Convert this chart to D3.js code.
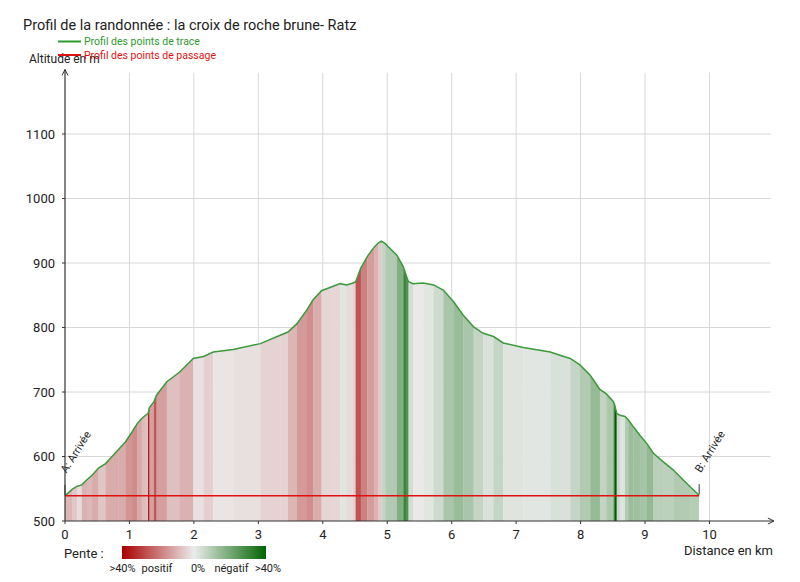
<!DOCTYPE html>
<html><head><meta charset="utf-8">
<script src="https://cdn.jsdelivr.net/npm/d3@7"></script>
<style>
html,body{margin:0;padding:0;background:#fff;}
svg{display:block;font-family:Roboto,"Noto Sans",sans-serif;}
</style></head>
<body>
<svg id="chart" width="800" height="582"></svg>
<script>
// ---- data ----
const title = "Profil de la randonnée : la croix de roche brune- Ratz";
const distanceKm = [0.00,0.11,0.19,0.26,0.34,0.42,0.52,0.63,0.73,0.83,0.94,1.04,1.12,1.19,1.25,1.29,1.31,1.38,1.42,1.58,1.78,1.99,2.15,2.30,2.61,3.03,3.34,3.46,3.60,3.75,3.85,3.98,4.11,4.27,4.37,4.47,4.51,4.59,4.69,4.80,4.86,4.91,4.97,5.04,5.15,5.25,5.30,5.33,5.40,5.56,5.72,5.87,6.03,6.18,6.34,6.49,6.65,6.80,7.11,7.53,7.68,7.84,7.99,8.15,8.30,8.40,8.51,8.53,8.56,8.61,8.69,8.74,8.82,8.92,9.03,9.13,9.28,9.44,9.59,9.70,9.84];
const altitudeM  = [539,549,554,556,564,571,582,589,600,611,623,638,651,659,664,667,676,685,695,716,731,752,755,762,766,775,788,793,806,827,843,857,862,868,866,869,871,892,910,925,931,934,930,923,912,894,879,871,868,869,866,858,840,819,801,791,786,776,769,762,757,752,742,726,704,697,685,680,667,664,662,657,646,633,620,605,592,579,564,553,540];
const waypointKm = [0.00, 9.84];
const waypointAlt = [539, 539];
const waypointLabels = ["A: Arrivée", "B: Arrivée"];
const yTicks = [500,600,700,800,900,1000,1100];
const xTicks = [0,1,2,3,4,5,6,7,8,9,10];
const legendItems = ["Profil des points de trace", "Profil des points de passage"];
const slopeLegend = [">40%", "positif", "0%", "négatif", ">40%"];

// ---- layout ----
const svg = d3.select("#chart");
const x = d3.scaleLinear().domain([0, 11]).range([65, 773.9]);
const y = d3.scaleLinear().domain([500, 1200]).range([521, 69.5]);
const slopeColor = d3.scaleLinear().domain([40, 0, -40])
  .range(["#a80000", "#ececec", "#006400"]).interpolate(d3.interpolateRgb);

const defs = svg.append("defs");
const pts = distanceKm.map((d, i) => ({d, a: altitudeM[i]}));

// grid
const grid = svg.append("g");
grid.selectAll(".vg").data(xTicks.filter(t => t > 0)).join("line")
  .attr("x1", d => x(d)).attr("x2", d => x(d))
  .attr("y1", y(500)).attr("y2", y(1195))
  .attr("stroke", "#d8d8d8").attr("stroke-width", 1);
grid.selectAll(".hg").data(yTicks.filter(t => t > 500)).join("line")
  .attr("x1", x(0)).attr("x2", x(10.95))
  .attr("y1", d => y(d)).attr("y2", d => y(d))
  .attr("stroke", "#d8d8d8").attr("stroke-width", 1);

// clip area under profile
const area = d3.area().x(p => x(p.d)).y0(y(500)).y1(p => y(p.a));
defs.append("clipPath").attr("id", "under").append("path").attr("d", area(pts));

// slope stripes
const segs = pts.slice(1).map((p, i) => {
  const q = pts[i];
  return {d0: q.d, d1: p.d, slope: (p.a - q.a) / ((p.d - q.d) * 1000) * 100};
});
svg.append("g").attr("clip-path", "url(#under)")
  .selectAll("rect").data(segs).join("rect")
  .attr("x", s => x(s.d0)).attr("width", s => Math.max(1, x(s.d1) - x(s.d0)) + 0.3)
  .attr("y", y(1200)).attr("height", y(500) - y(1200))
  .attr("fill", s => slopeColor(s.slope));

// profile line
svg.append("path").datum(pts)
  .attr("d", d3.line().x(p => x(p.d)).y(p => y(p.a)))
  .attr("fill", "none").attr("stroke", "#3b9a3b").attr("stroke-width", 1.5);

// waypoint line
const wps = waypointKm.map((d, i) => ({d, a: waypointAlt[i], label: waypointLabels[i]}));
svg.append("path").datum(wps)
  .attr("d", d3.line().x(p => x(p.d)).y(p => y(p.a)))
  .attr("fill", "none").attr("stroke", "#e01010").attr("stroke-width", 1.5);

// waypoint labels
wps.forEach((w, i) => {
  const px = x(w.d), py = y(altitudeM[i === 0 ? 0 : altitudeM.length - 1]);
  svg.append("line").attr("x1", px).attr("x2", px).attr("y1", py - 1).attr("y2", py - 11)
    .attr("stroke", "#333").attr("stroke-width", 1);
  svg.append("text").attr("transform", `translate(${px + 1.5},${py - 22}) rotate(-58)`)
    .attr("font-size", 11).attr("fill", "#222").text(w.label);
});

// axes
const axisColor = "#333";
svg.append("line").attr("x1", x(0)).attr("x2", x(11)).attr("y1", y(500)).attr("y2", y(500))
  .attr("stroke", axisColor).attr("stroke-width", 1.2);
svg.append("path").attr("d", `M${x(11)-6},${y(500)-3} L${x(11)},${y(500)} L${x(11)-6},${y(500)+3}`)
  .attr("fill", "none").attr("stroke", axisColor).attr("stroke-width", 1);
svg.append("line").attr("x1", x(0)).attr("x2", x(0)).attr("y1", y(500)).attr("y2", y(1200))
  .attr("stroke", axisColor).attr("stroke-width", 1.2);
svg.append("path").attr("d", `M${x(0)-3},${y(1200)+6} L${x(0)},${y(1200)} L${x(0)+3},${y(1200)+6}`)
  .attr("fill", "none").attr("stroke", axisColor).attr("stroke-width", 1);

// x ticks
svg.selectAll(".xt").data(xTicks).join("line")
  .attr("x1", d => x(d)).attr("x2", d => x(d)).attr("y1", y(500)).attr("y2", y(500) + 3)
  .attr("stroke", axisColor);
svg.selectAll(".xl").data(xTicks).join("text")
  .attr("x", d => x(d)).attr("y", y(500) + 18).attr("text-anchor", "middle")
  .attr("font-size", 13).attr("fill", "#222").text(d => d);
// y ticks
svg.selectAll(".yt").data(yTicks).join("line")
  .attr("x1", x(0) - 3).attr("x2", x(0)).attr("y1", d => y(d)).attr("y2", d => y(d))
  .attr("stroke", axisColor);
svg.selectAll(".yl").data(yTicks).join("text")
  .attr("x", x(0) - 10).attr("y", d => y(d) + 4.5).attr("text-anchor", "end")
  .attr("font-size", 13).attr("fill", "#222").text(d => d);

// axis titles
svg.append("text").attr("x", 773).attr("y", 555).attr("text-anchor", "end")
  .attr("font-size", 13).attr("fill", "#222").text("Distance en km");
svg.append("text").attr("x", 29).attr("y", 62.5)
  .attr("font-size", 12).attr("fill", "#222").text("Altitude en m");

// title
svg.append("text").attr("x", 23).attr("y", 29.5)
  .attr("font-size", 14.5).attr("fill", "#222").text(title);

// series legend
const legColors = ["#2e9a2e", "#e01010"];
legendItems.forEach((t, i) => {
  const ly = 41.5 + i * 13.5;
  svg.append("line").attr("x1", 58).attr("x2", 81).attr("y1", ly).attr("y2", ly)
    .attr("stroke", legColors[i]).attr("stroke-width", 2);
  svg.append("text").attr("x", 84).attr("y", ly + 3.5)
    .attr("font-size", 10.5).attr("fill", legColors[i]).text(t);
});

// slope legend
svg.append("text").attr("x", 64).attr("y", 557.5).attr("font-size", 13).attr("fill", "#222").text("Pente :");
const grad = defs.append("linearGradient").attr("id", "slopeGrad");
[[0, slopeColor(40)], [0.5, slopeColor(0)], [1, slopeColor(-40)]].forEach(([o, c]) =>
  grad.append("stop").attr("offset", o).attr("stop-color", c));
svg.append("rect").attr("x", 122).attr("y", 546).attr("width", 144).attr("height", 13)
  .attr("fill", "url(#slopeGrad)");
const slx = [122.5, 157, 198, 231.5, 268];
slopeLegend.forEach((t, i) => {
  svg.append("text").attr("x", slx[i]).attr("y", 571.5).attr("text-anchor", "middle")
    .attr("font-size", 11).attr("fill", "#222").text(t);
});
</script>
</body></html>
